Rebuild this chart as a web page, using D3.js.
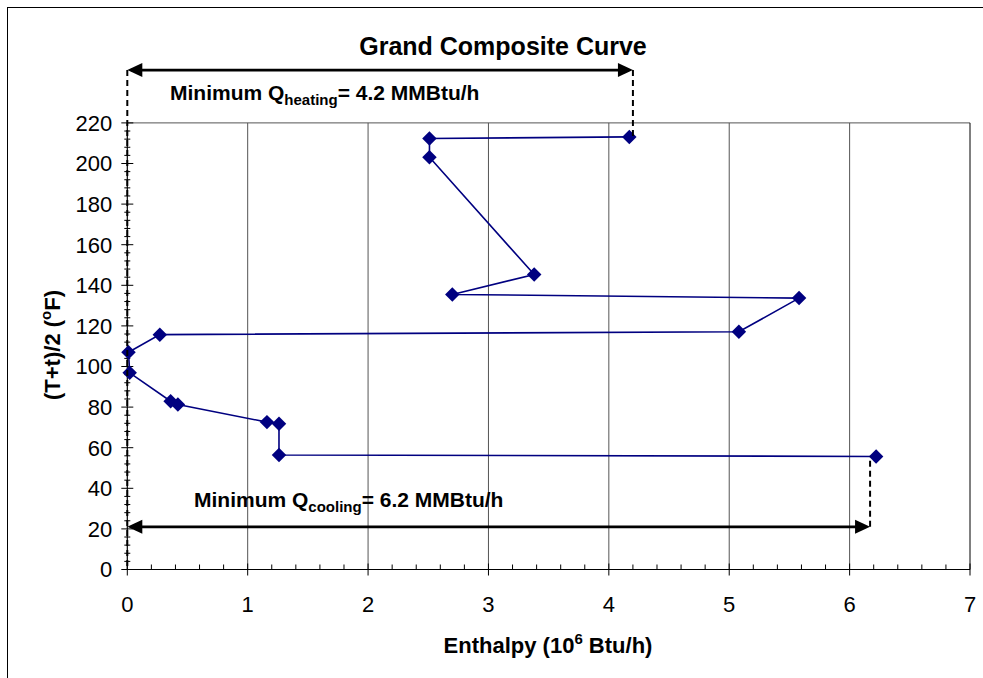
<!DOCTYPE html>
<html><head><meta charset="utf-8">
<script src="https://cdn.jsdelivr.net/npm/d3@7"></script>
<style>
html,body{margin:0;padding:0;background:#fff;}
svg{display:block;font-family:"Liberation Sans",Arial,Helvetica,sans-serif;}
</style></head>
<body>
<svg id="chart" width="983" height="678"></svg>
<script>
// ---- data ----
const enthalpy = [4.17, 2.51, 2.51, 3.38, 2.70, 5.58, 5.08, 0.27, 0.01, 0.02, 0.36, 0.42, 1.16, 1.26, 1.26, 6.22];
const temperature = [213.1, 212.3, 203.1, 145.3, 135.5, 133.7, 117.1, 115.7, 107.0, 96.9, 82.9, 81.3, 72.6, 71.8, 56.4, 55.7];
const xTicks = [0, 1, 2, 3, 4, 5, 6, 7];
const yTicks = [0, 20, 40, 60, 80, 100, 120, 140, 160, 180, 200, 220];
const heatingSpan = [0, 4.2];   // MMBtu/h
const heatingLevel = 246;
const coolingSpan = [0, 6.17];
const coolingLevel = 21;
const titleText = "Grand Composite Curve";

const svg = d3.select("#chart");
const L = 127.3, R = 970, T = 122.9, B = 569.5;

const x = d3.scaleLinear().domain([0, 7]).range([L, R]);
const y = d3.scaleLinear().domain([0, 220]).range([B, T]);

// outer frame
svg.append("rect").attr("x", 7.5).attr("y", 7.5).attr("width", 1000).attr("height", 700)
  .attr("fill", "none").attr("stroke", "#000").attr("stroke-width", 1);

// vertical gridlines
svg.append("g").selectAll("line").data(xTicks.filter(d => d > 0 && d < 7)).join("line")
  .attr("x1", d => x(d)).attr("x2", d => x(d)).attr("y1", T).attr("y2", B)
  .attr("stroke", "#555").attr("stroke-width", 1);

// plot border top & right
svg.append("line").attr("x1", L).attr("x2", R).attr("y1", T).attr("y2", T).attr("stroke", "#555");
svg.append("line").attr("x1", R).attr("x2", R).attr("y1", T).attr("y2", B).attr("stroke", "#000");

// x axis
const xMinor = d3.range(0, 7.0001, 0.2).filter(v => Math.abs(v - Math.round(v)) > 1e-6);
const gx = svg.append("g").attr("transform", `translate(0,${B})`);
gx.append("line").attr("x1", L).attr("x2", R).attr("stroke", "#000").attr("stroke-width", 1.2);
gx.selectAll(".mn").data(xMinor).join("line").attr("class", "mn")
  .attr("x1", d => x(d)).attr("x2", d => x(d)).attr("y1", -5).attr("y2", 0).attr("stroke", "#000");
gx.selectAll(".mj").data(xTicks).join("line").attr("class", "mj")
  .attr("x1", d => x(d)).attr("x2", d => x(d)).attr("y1", -6).attr("y2", 6).attr("stroke", "#000");
gx.selectAll("text").data(xTicks).join("text")
  .attr("x", d => x(d)).attr("y", 42).attr("text-anchor", "middle")
  .attr("font-size", 22).text(d => d);

// y axis
const yMinor = d3.range(0, 220.001, 4).filter(v => v % 20 !== 0);
const gy = svg.append("g").attr("transform", `translate(${L},0)`);
gy.append("line").attr("y1", T).attr("y2", B).attr("stroke", "#000").attr("stroke-width", 1.2);
gy.selectAll(".mn").data(yMinor).join("line").attr("class", "mn")
  .attr("y1", d => y(d)).attr("y2", d => y(d)).attr("x1", -3).attr("x2", 3).attr("stroke", "#000");
gy.selectAll(".mj").data(yTicks).join("line").attr("class", "mj")
  .attr("y1", d => y(d)).attr("y2", d => y(d)).attr("x1", -6).attr("x2", 6).attr("stroke", "#000");
gy.selectAll("text").data(yTicks).join("text")
  .attr("x", -15).attr("y", d => y(d)).attr("dy", "0.36em").attr("text-anchor", "end")
  .attr("font-size", 22).text(d => d);

// data line
const pts = enthalpy.map((e, i) => [e, temperature[i]]);
svg.append("path").datum(pts)
  .attr("d", d3.line().x(d => x(d[0])).y(d => y(d[1])))
  .attr("fill", "none").attr("stroke", "#000080").attr("stroke-width", 1.6);
svg.append("g").selectAll("path").data(pts).join("path")
  .attr("d", d3.symbol(d3.symbolSquare, 105)())
  .attr("transform", d => `translate(${x(d[0])},${y(d[1])}) rotate(45)`)
  .attr("fill", "#000080");

// annotations
function arrow(span, level) {
  const yy = y(level), x0 = x(span[0]), x1 = x(span[1]);
  const hl = 15, hw = 7;
  svg.append("line").attr("x1", x0 + 4).attr("x2", x1 - 4).attr("y1", yy).attr("y2", yy)
    .attr("stroke", "#000").attr("stroke-width", 2.6);
  svg.append("path").attr("d", `M${x0},${yy} L${x0 + hl},${yy - hw} L${x0 + hl},${yy + hw} Z`).attr("fill", "#000");
  svg.append("path").attr("d", `M${x1},${yy} L${x1 - hl},${yy - hw} L${x1 - hl},${yy + hw} Z`).attr("fill", "#000");
}
function dashed(xv, y0, y1) {
  svg.append("line").attr("x1", x(xv)).attr("x2", x(xv)).attr("y1", y(y0)).attr("y2", y(y1))
    .attr("stroke", "#000").attr("stroke-width", 2).attr("stroke-dasharray", "6,4");
}
dashed(0, heatingLevel, 0);
dashed(heatingSpan[1], heatingLevel, temperature[0]);
dashed(coolingSpan[1], coolingLevel, temperature[temperature.length - 1]);
arrow(heatingSpan, heatingLevel);
arrow(coolingSpan, coolingLevel);

function subLabel(xp, yp, sub, val) {
  const t = svg.append("text").attr("x", xp).attr("y", yp).attr("font-size", 21).attr("font-weight", "bold");
  t.append("tspan").text("Minimum Q");
  t.append("tspan").attr("font-size", 15).attr("dy", 5).text(sub);
  t.append("tspan").attr("dy", -5).text(`= ${val} MMBtu/h`);
}
subLabel(170, 100, "heating", "4.2");
subLabel(194, 507, "cooling", "6.2");

// title
svg.append("text").attr("x", 503).attr("y", 55).attr("text-anchor", "middle")
  .attr("font-size", 25).attr("font-weight", "bold").text(titleText);

// axis titles
const xt = svg.append("text").attr("x", 548).attr("y", 653).attr("text-anchor", "middle")
  .attr("font-size", 22).attr("font-weight", "bold");
xt.append("tspan").text("Enthalpy (10");
xt.append("tspan").attr("font-size", 15).attr("dy", -9).text("6");
xt.append("tspan").attr("dy", 9).text(" Btu/h)");

const yt = svg.append("text").attr("transform", "translate(60,345) rotate(-90)").attr("text-anchor", "middle")
  .attr("font-size", 22).attr("font-weight", "bold");
yt.append("tspan").text("(T+t)/2 (");
yt.append("tspan").attr("font-size", 15).attr("dy", -9).text("o");
yt.append("tspan").attr("dy", 9).text("F)");
</script>
</body></html>
